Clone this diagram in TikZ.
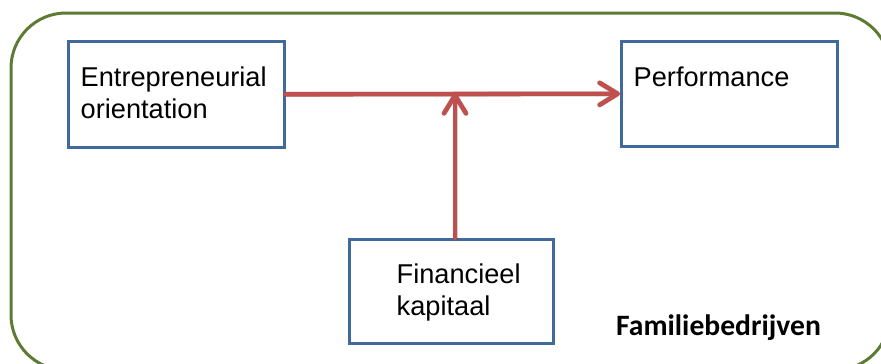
\documentclass[tikz,border=0pt]{standalone}
\usepackage{fontspec}
\setmainfont{Liberation Sans}
\newfontfamily\famfont{Carlito}
\usetikzlibrary{arrows.meta}
\definecolor{framegreen}{HTML}{5E7B33}
\definecolor{boxblue}{HTML}{41699C}
\definecolor{linkred}{HTML}{C0504D}
\tikzset{
  box/.style={draw=boxblue, line width=2.6pt, fill=white, anchor=north west, inner sep=0pt},
  lbl/.style={anchor=base west, inner sep=0pt, font=\fontsize{27.2}{32}\selectfont},
  famlbl/.style={anchor=base west, inner sep=0pt, font=\famfont\bfseries\fontsize{29.6}{32}\selectfont},
  link/.style={draw=linkred, line width=4.6pt, line cap=round,
    -{Straight Barb[length=18pt, width=22pt, line cap=round, line join=round]}},
  linkshadow/.style={draw=black, opacity=0.18, line width=5pt, line cap=round,
    -{Straight Barb[length=18pt, width=22pt, line cap=round, line join=round]}}
}
\begin{document}
\begin{tikzpicture}[x=1pt, y=-1pt]
\useasboundingbox (0,0) rectangle (881,364);
% outer frame, running past the right and bottom edges
\begin{scope}
  \clip (0,0) rectangle (881,364);
  \draw[framegreen, line width=3pt, rounded corners=55pt] (11,13) rectangle (890,370);
\end{scope}

% boxes
\node[box, minimum width=216pt, minimum height=106pt] (eo) at (67,40) {};
\node[box, minimum width=216pt, minimum height=105pt] (perf) at (620,40) {};
\node[box, minimum width=204pt, minimum height=104pt] (fin) at (348,238) {};

% junction on the main link
\coordinate (j) at (455,93);

% soft shadows of the links
\begin{scope}[shift={(1.5,3)}]
  \path[linkshadow] (eo.east) -- (perf.west);
  \path[linkshadow] (j |- fin.north) -- (j);
\end{scope}

% links
\draw[link] (eo.east) -- (perf.west);
\draw[link] (j |- fin.north) -- (j);

% texts
\node[lbl] (eoA) at (80.5,86) {Entrepreneurial};
\node[lbl] (eoB) at (80.5,118) {orientation};
\node[lbl] (perfA) at (633.5,86) {Performance};
\node[lbl] (finA) at (396.5,283) {Financieel};
\node[lbl] (finB) at (396.5,315) {kapitaal};
\node[famlbl] (fam) at (616,335) {Familiebedrijven};
\end{tikzpicture}
\end{document}
